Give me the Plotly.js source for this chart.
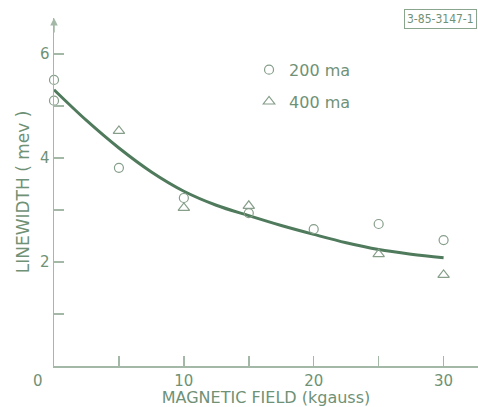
<!DOCTYPE html>
<html>
<head>
<meta charset="utf-8">
<script src="https://cdn.plot.ly/plotly-3.0.1.min.js"></script>
<style>html,body{margin:0;padding:0;background:#fff;}#chart{width:478px;height:407px;}</style>
</head>
<body>
<div id="chart"></div>
<script>
// 200 ma data (circles)
const field200 = [0, 0, 5, 10, 15, 20, 25, 30];
const width200 = [5.5, 5.1, 3.81, 3.23, 2.94, 2.63, 2.73, 2.42];
// 400 ma data (triangles)
const field400 = [5, 10, 15, 25, 30];
const width400 = [4.52, 3.04, 3.08, 2.15, 1.75];
// fitted curve
const fitField = [0, 2.5, 5, 7.5, 10, 12.5, 15, 17.5, 20, 22.5, 25, 27.5, 30];
const fitWidth = [5.31, 4.72, 4.19, 3.73, 3.36, 3.09, 2.89, 2.70, 2.53, 2.37, 2.24, 2.15, 2.08];
const xTickVals = [5, 10, 15, 20, 25, 30];
const xTickText = ['', '10', '', '20', '', '30'];
const yTickVals = [1, 2, 3, 4, 5, 6];
const yTickText = ['', '2', '', '4', '', '6'];

const txt = '#6f9176';
const axc = '#a3b8a6';
const mk = '#869e8a';
const font = {family: 'DejaVu Sans, Liberation Sans, sans-serif', color: txt, size: 14};

const traces = [
  {x: fitField, y: fitWidth, mode: 'lines', line: {color: '#4f7a5c', width: 3, shape: 'spline', smoothing: 1}, showlegend: false, hoverinfo: 'skip'},
  {x: field200, y: width200, mode: 'markers', name: '200 ma', legendgroup: 'a',
   marker: {symbol: 'circle-open', size: 9, color: mk, line: {width: 1.2, color: mk}}, cliponaxis: false},
  {x: field400, y: width400, mode: 'markers', name: '400 ma', legendgroup: 'b',
   marker: {symbol: 'triangle-up-open', size: 10, color: mk, line: {width: 1.2, color: mk}}, cliponaxis: false}
];

const layout = {
  width: 478, height: 407,
  margin: {l: 54, r: 0, t: 18, b: 41},
  paper_bgcolor: '#fff', plot_bgcolor: '#fff',
  font: font,
  showlegend: true,
  legend: {x: 0.46, y: 0.9, xanchor: 'left', yanchor: 'top', font: {size: 16, color: txt},
           traceorder: 'grouped', tracegroupgap: 8, bgcolor: 'rgba(0,0,0,0)'},
  xaxis: {range: [0, 32.65], showgrid: false, zeroline: false, showline: true, linecolor: axc, linewidth: 1.5,
          tickmode: 'array', tickvals: xTickVals, ticktext: xTickText,
          ticks: 'inside', ticklen: 10, tickcolor: axc, tickwidth: 1.5, tickfont: {size: 15, color: txt},
          title: {text: 'MAGNETIC FIELD (kgauss)', font: {size: 16, color: txt}, standoff: 6}},
  yaxis: {range: [0, 6.69], showgrid: false, zeroline: false, showline: true, linecolor: axc, linewidth: 1.5,
          tickmode: 'array', tickvals: yTickVals, ticktext: yTickText,
          ticks: 'inside', ticklen: 10, tickcolor: axc, tickwidth: 1.5, tickfont: {size: 15, color: txt},
          title: {text: 'LINEWIDTH ( mev )', font: {size: 17, color: txt}, standoff: 6}},
  annotations: [
    {xref: 'paper', yref: 'paper', x: -0.022, y: 0, xanchor: 'right', yanchor: 'top', yshift: -4, text: '0', showarrow: false, font: {size: 15, color: txt}},
    {xref: 'x', yref: 'y', x: 0, y: 6.69, ax: 0, ay: 16, text: '', showarrow: true, arrowhead: 2, arrowsize: 1, arrowwidth: 1.5, arrowcolor: axc},
    {xref: 'paper', yref: 'paper', x: 1, y: 1.0, xanchor: 'right', yanchor: 'top', xshift: -1, yshift: 9, text: '3-85-3147-1',
     showarrow: false, font: {family: 'DejaVu Sans Condensed, Liberation Sans Narrow, sans-serif', size: 12, color: txt},
     bordercolor: '#8aa58e', borderwidth: 1, borderpad: 2}
  ]
};

Plotly.newPlot('chart', traces, layout, {displayModeBar: false, staticPlot: true});
</script>
</body>
</html>
